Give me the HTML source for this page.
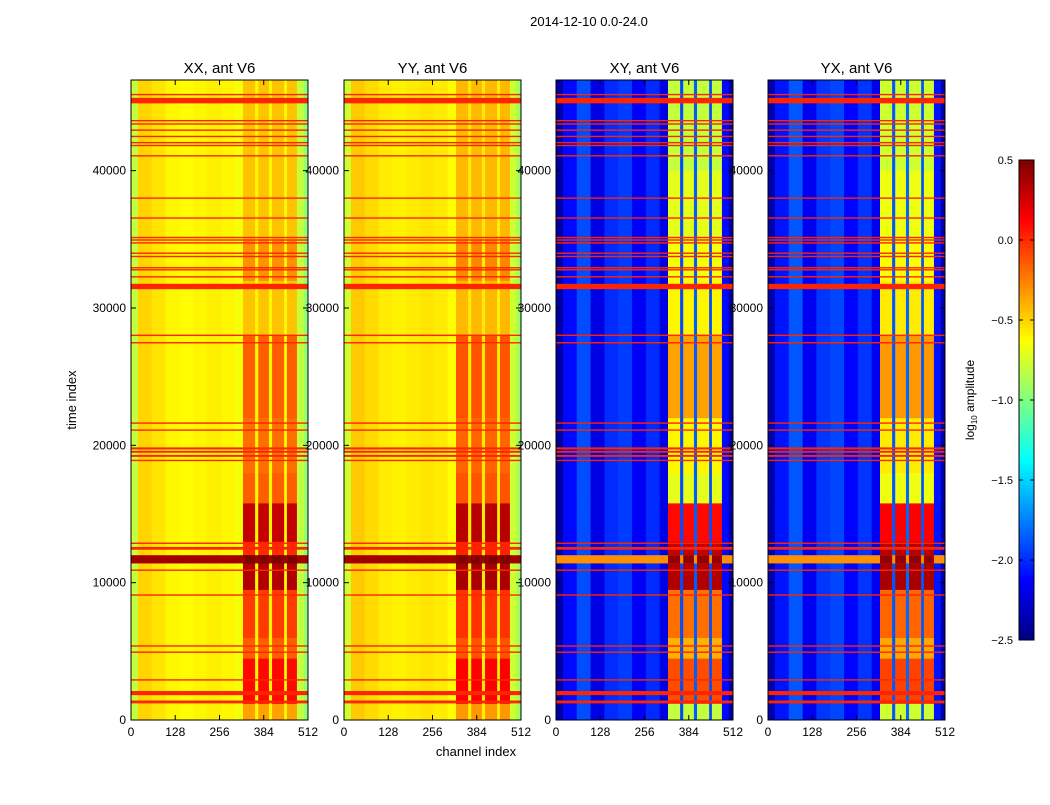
<!DOCTYPE html>
<html><head><meta charset="utf-8">
<style>
body{margin:0;background:#fff;font-family:"Liberation Sans",sans-serif;}
svg text{font-family:"Liberation Sans",sans-serif;fill:#000;}
</style></head>
<body>
<svg id="fig" width="1050" height="800" viewBox="0 0 1050 800" xmlns="http://www.w3.org/2000/svg">
<rect width="1050" height="800" fill="#fff"/>
<text x="589" y="26" font-size="13" text-anchor="middle">2014-12-10 0.0-24.0</text>
<text x="476" y="756" font-size="13" text-anchor="middle">channel index</text>
<text x="76" y="400" font-size="13" text-anchor="middle" transform="rotate(-90 76 400)">time index</text>
<g id="panels"></g>
<g id="cbar"></g>
</svg>
<script>
// ---- data ----
const channelEdges=[0,20,60,100,140,180,220,260,300,324,359,368,399,408,443,451,480,500,512];
const colType=['bg','bg','bg','bg','bg','bg','bg','bg','bg','s','g','s','g','s','g','s','e','e'];
const bgAuto=[-0.8,-0.5,-0.55,-0.6,-0.62,-0.6,-0.58,-0.6,-0.65,0,-0.6,0,-0.6,0,-0.62,0,-0.8,-0.95];
const bgCross=[-2.4,-2.1,-1.9,-2.2,-2.0,-1.95,-2.15,-2.0,-2.2,0,-1.9,0,-1.85,0,-1.9,0,-2.1,-2.4];
const timeEdges=[0,1200,4500,6000,9500,11400,12000,13000,15800,18000,22000,28000,32000,35000,40000,46600];
const stripeAuto=[-0.35,0.1,-0.15,-0.05,0.35,0.4,0.0,0.3,-0.15,-0.2,-0.15,-0.45,-0.3,-0.45,-0.45];
const stripeCross=[-0.8,-0.1,-0.4,-0.2,0.35,0.3,0.3,0.1,-0.7,-0.6,-0.35,-0.6,-0.65,-0.7,-0.8];
const bandStart=[11400];
const bandEnd=[12000];
const bandAuto=[0.4];
const bandCross=[-0.3];
const flagStart=[45490,44900,43590,43350,42900,42440,41990,41780,41030,37950,36500,35080,34900,34690,33940,33700,32880,32730,32220,31370,27960,27420,21570,21060,19160,19460,19700,18850,12820,12400,10860,9050,5340,4890,2870,1810,1210];
const flagEnd=[45590,45300,43690,43450,43000,42540,42090,41880,41130,38050,36600,35180,35000,34790,34040,33800,32980,32830,32320,31760,28060,27520,21670,21160,19300,19600,19850,18950,12920,12600,10960,9150,5440,4990,2970,2110,1420];
const flagValue=0.02;
const panelTitles=['XX, ant V6','YY, ant V6','XY, ant V6','YX, ant V6'];
const panelKind=['auto','auto','cross','cross'];
const xTicks=[0,128,256,384,512];
const yTicks=[0,10000,20000,30000,40000];
const cbTicks=[0.5,0.0,-0.5,-1.0,-1.5,-2.0,-2.5];
const cbTickLabels=['0.5','0.0','\u22120.5','\u22121.0','\u22121.5','\u22122.0','\u22122.5'];
// ---- layout ----
const panelX=[131,344,556,768], PW=177, PT=80, PB=720;
const VMIN=-2.5,VMAX=0.5,TMAX=46600;
const NS='http://www.w3.org/2000/svg';
function jet(v){let f=(v-VMIN)/(VMAX-VMIN);f=Math.max(0,Math.min(1,f));
 const c=x=>Math.round(255*Math.max(0,Math.min(1,x)));
 return `rgb(${c(1.5-Math.abs(4*f-3))},${c(1.5-Math.abs(4*f-2))},${c(1.5-Math.abs(4*f-1))})`;}
function mk(tag,attrs,parent){const e=document.createElementNS(NS,tag);for(const k in attrs)e.setAttribute(k,attrs[k]);parent.appendChild(e);return e;}
const root=document.getElementById('panels');
panelX.forEach((px,p)=>{
 const g=mk('g',{},root);
 
 
 const xs=c=>px+c/512*PW, ys=t=>PB-t/TMAX*(PB-PT);
 const bg=panelKind[p]=='auto'?bgAuto:bgCross, st=panelKind[p]=='auto'?stripeAuto:stripeCross;
 const off=(p==1||p==3)?0.03:0;
 for(let t=0;t<timeEdges.length-1;t++){
  for(let c=0;c<colType.length;c++){
   let v=colType[c]=='s'?st[t]:bg[c];
   const r=mk('rect',{x:xs(channelEdges[c]),y:ys(timeEdges[t+1]),width:xs(channelEdges[c+1])-xs(channelEdges[c])+0.4,height:ys(timeEdges[t])-ys(timeEdges[t+1])+0.4,fill:jet(v+off)},g);
   
   
  }
 }
 bandStart.forEach((b,i)=>{
  const bv=panelKind[p]=='auto'?bandAuto[i]:bandCross[i];
  const r=mk('rect',{x:px,y:ys(bandEnd[i]),width:PW,height:ys(bandStart[i])-ys(bandEnd[i]),fill:jet(bv)},g);
  
  
  const sv=panelKind[p]=='auto'?0.5:0.45;
  [9,11,13,15].forEach(c=>{mk('rect',{x:xs(channelEdges[c]),y:ys(bandEnd[i]),width:xs(channelEdges[c+1])-xs(channelEdges[c]),height:ys(bandStart[i])-ys(bandEnd[i]),fill:jet(sv)},g);});
 });
 flagStart.forEach((f,i)=>{
  const h=Math.max(1.4,ys(f)-ys(flagEnd[i]));
  const r=mk('rect',{x:px,y:ys(flagEnd[i]),width:PW,height:h,fill:jet(flagValue)},g);
  
  
 });
 const fr=mk('rect',{x:px,y:PT,width:PW,height:PB-PT,fill:'none',stroke:'#000','stroke-width':1},g);
 
 
 const tt=mk('text',{x:px+PW/2,y:PT-7,'font-size':15,'text-anchor':'middle'},g);tt.textContent=panelTitles[p];
 
 
 xTicks.forEach(v=>{const x=xs(v);
  mk('line',{x1:x,x2:x,y1:PB,y2:PB-5,stroke:'#000'},g);mk('line',{x1:x,x2:x,y1:PT,y2:PT+5,stroke:'#000'},g);
  const l=mk('text',{x:x,y:PB+16,'font-size':12,'text-anchor':'middle'},g);l.textContent=v;
  
  });
 yTicks.forEach(v=>{const y=ys(v);
  mk('line',{x1:px,x2:px+5,y1:y,y2:y,stroke:'#000'},g);mk('line',{x1:px+PW,x2:px+PW-5,y1:y,y2:y,stroke:'#000'},g);
  const l=mk('text',{x:px-5,y:y+4,'font-size':12,'text-anchor':'end'},g);l.textContent=v;
  
  });
});
// colorbar
const cb=document.getElementById('cbar');


const CX=1019,CW=15,CT=160,CB=640;
for(let i=0;i<120;i++){const v=VMIN+(i+0.5)/120*(VMAX-VMIN);const y=CB-(i+1)/120*(CB-CT);
 mk('rect',{x:CX,y:y,width:CW,height:(CB-CT)/120+0.5,fill:jet(v)},cb);}
mk('rect',{x:CX,y:CT,width:CW,height:CB-CT,fill:'none',stroke:'#000'},cb);
cbTicks.forEach((v,i)=>{const y=CB-(v-VMIN)/(VMAX-VMIN)*(CB-CT);
 mk('line',{x1:CX,x2:CX+4,y1:y,y2:y,stroke:'#000'},cb);mk('line',{x1:CX+CW,x2:CX+CW-4,y1:y,y2:y,stroke:'#000'},cb);
 const l=mk('text',{x:1013,y:y+4,'font-size':11,'text-anchor':'end'},cb);l.textContent=cbTickLabels[i];
 
 });
const cl=mk('text',{x:974,y:400,'font-size':12,'text-anchor':'middle',transform:'rotate(-90 974 400)'},cb);
cl.innerHTML='log<tspan font-size="8" dy="3">10</tspan><tspan dy="-3"> amplitude</tspan>';


</script>
</body></html>
